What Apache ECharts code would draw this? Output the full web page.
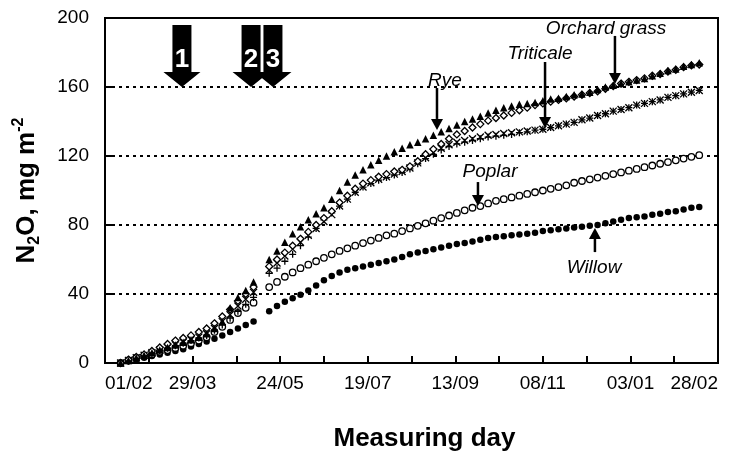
<!DOCTYPE html>
<html><head><meta charset="utf-8">
<script src="https://cdn.jsdelivr.net/npm/echarts@6/dist/echarts.min.js"></script>
<style>html,body{margin:0;padding:0;background:#fff}#c{width:746px;height:455px}</style>
</head><body><div id="c"></div>
<script>
// Days since 01/02 (measurement days)
const days = [10,15,20,25,30,35,40,45,50,55,60,65,70,75,80,85,90,95,100,105,110,115,120,125,130,135,140,145,150,155,160,165,170,175,180,185,190,195,200,205,210,215,220,225,230,235,240,245,250,255,260,265,270,275,280,285,290,295,300,305,310,315,320,325,330,335,340,345,350,355,360,365,370,375,380];
// X tick labels every 56 days from 01/02
const xLabels = ['01/02','29/03','24/05','19/07','13/09','08/11','03/01','28/02'];
const yTicks = [0,40,80,120,160,200];

const rye = [0,1.5,3,4.5,6,7.5,9,10.5,12,13.5,
 15,17,20,24,32,38,42,47,null,60,
 65,70,75,79,83,86.5,90,95,100,105,
 109,112,115,117.5,120,122.5,124.5,126.5,128,130,
 132,134,136,138,140,141.5,143,145,146.5,148,
 149,150,150.5,151,152,153,153.5,154.5,155.5,156,
 157,158.5,160,161,162,163,164,165,166.5,168,
 169.5,170.5,172,173,174];
const orchard = [0,2,3.5,5,7,9,11,13,14.5,16,
 18,20,23,27,31,36,40,44,null,56,
 60,64,68,72,76,80,84,88,93,97,
 101,104,106,108,109.5,111,112,114,117,121,
 124,127,130,132.5,134.5,136.5,138.5,140.5,142,143.5,
 145,146.5,148,149.5,150.5,151.5,152.5,153.5,154.5,155.5,
 156.5,157.5,159,160.5,162,163,164,165,166.5,167.5,
 169,170,171.5,172.5,173];
const triticale = [0,1.5,3,4.5,6,7.5,9,10.5,12,13.5,
 15,17,20,24,28,33,37,41,null,54,
 58,62,66,70,74,78,82,86,91,95,
 99,102,104.5,106.5,108,109.5,111,113,116,119,
 122,124.5,126.5,128,129,130,131,132,132.5,133,
 133.5,134,134.5,135,135.5,136.5,137.5,138.5,139.5,141,
 142,143.5,144.5,146,147,148,149.5,150.5,151.5,152.5,
 154,155,156,157,158];
const triticale2 = [0,1,2.5,4,5.5,7,8.5,10,11.5,13,
 14.5,16,19,22,26,30,34,38,null,52,
 55,59,63,68,73,78,83,87,91,95,
 99,102,104,106,107.5,109,110.5,112.5,115.5,118.5,
 121,123.5,125.5,127,128,129,130,131,131.5,132,
 132.5,133.5,134,135,135.5,136.5,137.5,138.5,139.5,141,
 142,143.5,144.5,146,147,148,149.5,150.5,151.5,152.5,
 154,155,156,157,158];
const poplar = [0,1.5,3,4,5,6.5,7.5,8.7,10,11.5,
 13,15,18,21,25,29,32,35,null,44,
 47,50,52.5,55,57,59,61,63,65,66.5,
 68,69.5,71,72.5,74,75,76.5,78,79.5,81,
 82.5,84,85.5,87,88.5,90,91,92.5,94,95,
 96,97,98,99,100,101,102,103,104.5,105.5,
 106.5,107.5,108.5,109.5,110.5,111.5,112.5,113.5,114.5,115.5,
 116.5,117.5,118.5,119.5,120.5];
const willow = [0,1,2,3,4,5,6,7,8,9.5,
 11,12.5,14,16,18,20,22,24,null,30,
 33,35.5,37.5,39.5,42,45,48,50.5,52.5,54,
 55,56,57,58,59,60,61.5,63,64,65,
 66,67,68,69,69.5,70.5,71.5,72.5,73,73.5,
 74,74.5,75,75.5,76.5,77,77.5,78,78.5,79,
 79.5,80,81,82,83,84,84.5,85,86,86.5,
 87.5,88,89,90,90.5];

// Annotations (data coordinates)
const blockArrows = [{t:'1', day:49.2}, {t:'2', day:93.4}, {t:'3', day:107.4}];
const blockTop = 196, blockTip = 160;
const labels = [
 {t:'Orchard grass', day:320.4, v:193.6, aDay:326.1, from:189.6, to:161.7},
 {t:'Triticale', day:278.2, v:179.1, aDay:281.4, from:174.5, to:136.2},
 {t:'Rye', day:217.4, v:163.5, aDay:212.3, from:159.4, to:135.1},
 {t:'Poplar', day:246.2, v:110.7, aDay:238.5, from:104.9, to:91},
 {t:'Willow', day:312.7, v:55.1, aDay:313.3, from:64.3, to:78.3}
];

const FONT = '"Liberation Sans", Arial, sans-serif';
function pairs(arr){ const out=[]; days.forEach((d,i)=>{ if(arr[i]!==null) out.push([d, arr[i]]); }); return out; }
const xPath = 'path://M0,0L10,10M10,0L0,10';
const plusPath = 'path://M5,0L5,10M0,5L10,5';

const chart = echarts.init(document.getElementById('c'), null, {renderer:'canvas'});
const mk = (name, data, symbol, size, fill, bw) => ({
  name, type:'scatter', data: pairs(data), symbol, symbolSize:size,
  itemStyle:{color:fill, borderColor:'#000', borderWidth:bw, opacity:1}, silent:true
});
chart.setOption({
  animation:false,
  backgroundColor:'#fff',
  grid:{left:105, top:18, right:28, bottom:92, show:true, borderColor:'#000', borderWidth:2,
    backgroundColor:'transparent', outerBoundsMode:'none', containLabel:false},
  xAxis:{type:'value', min:0, max:392, interval:28,
    axisLine:{show:true, lineStyle:{color:'#000', width:2}},
    axisTick:{show:true, inside:true, length:7, lineStyle:{color:'#000', width:2}},
    axisLabel:{color:'#000', fontSize:19, fontFamily:FONT, margin:11, showMinLabel:true, showMaxLabel:true,
      alignMinLabel:'left', alignMaxLabel:'right',
      formatter:v => (v % 56 === 0 ? xLabels[v/56] : '')},
    splitLine:{show:false},
    name:'Measuring day', nameLocation:'middle', nameGap:63,
    nameTextStyle:{color:'#000', fontSize:26, fontWeight:'bold', fontFamily:FONT, padding:[0,0,0,26]}
  },
  yAxis:{type:'value', min:0, max:200, interval:40,
    axisLine:{show:true, lineStyle:{color:'#000', width:2}},
    axisTick:{show:true, inside:true, length:7, lineStyle:{color:'#000', width:2}},
    axisLabel:{color:'#000', fontSize:19, fontFamily:FONT, margin:16,
      formatter:v => (yTicks.indexOf(v) >= 0 ? String(v) : '')},
    splitLine:{show:true, lineStyle:{color:'#000', width:2, type:[3,4]}},
    name:'{a|N}{s|2}{a|O, mg m}{p|-2}', nameLocation:'middle', nameGap:62, nameRotate:90,
    nameTextStyle:{rich:{
      a:{fontSize:26, fontWeight:'bold', fontFamily:FONT, color:'#000', lineHeight:32, verticalAlign:'middle'},
      s:{fontSize:16, fontWeight:'bold', fontFamily:FONT, color:'#000', lineHeight:17, verticalAlign:'bottom'},
      p:{fontSize:16, fontWeight:'bold', fontFamily:FONT, color:'#000', lineHeight:17, verticalAlign:'top'}
    }}
  },
  series:[
    mk('Willow', willow, 'circle', 6.5, '#000', 0),
    mk('Poplar', poplar, 'circle', 6.5, '#fff', 1.3),
    mk('Triticale b', triticale2, plusPath, 7, 'transparent', 1.3),
    mk('Triticale', triticale, xPath, 7, 'transparent', 1.3),
    mk('Orchard grass', orchard, 'diamond', 7, '#fff', 1.3),
    mk('Rye', rye, 'triangle', 7.5, '#000', 0)
  ]
});

function px(d,v){ return chart.convertToPixel({gridIndex:0},[d,v]); }
const g = [];
blockArrows.forEach(a => {
  const top = px(a.day, blockTop), tip = px(a.day, blockTip);
  const cx = top[0], hy = tip[1]-15, sw = 9.5, hw = 18.5;
  g.push({type:'polygon', shape:{points:[[cx-sw,top[1]],[cx+sw,top[1]],[cx+sw,hy],[cx+hw,hy],[cx,tip[1]],[cx-hw,hy],[cx-sw,hy]]},
    style:{fill:'#000'}, z:100});
  g.push({type:'text', style:{text:a.t, x:cx, y:top[1]+35, align:'center', verticalAlign:'middle',
    font:'bold 26px '+FONT, fill:'#fff'}, z:101});
});
labels.forEach(l => {
  const c = px(l.day, l.v), f = px(l.aDay, l.from), t = px(l.aDay, l.to);
  g.push({type:'text', style:{text:l.t, x:c[0], y:c[1], align:'center', verticalAlign:'middle',
    font:'italic 19px '+FONT, fill:'#000'}, z:100});
  const dir = t[1] > f[1] ? 1 : -1;
  const hb = t[1] - dir*11;
  g.push({type:'line', shape:{x1:f[0], y1:f[1], x2:t[0], y2:hb}, style:{stroke:'#000', lineWidth:2.5}, z:100});
  g.push({type:'polygon', shape:{points:[[t[0]-6,hb],[t[0]+6,hb],[t[0],t[1]]]}, style:{fill:'#000'}, z:100});
});
chart.setOption({graphic:g});
</script>
</body></html>
